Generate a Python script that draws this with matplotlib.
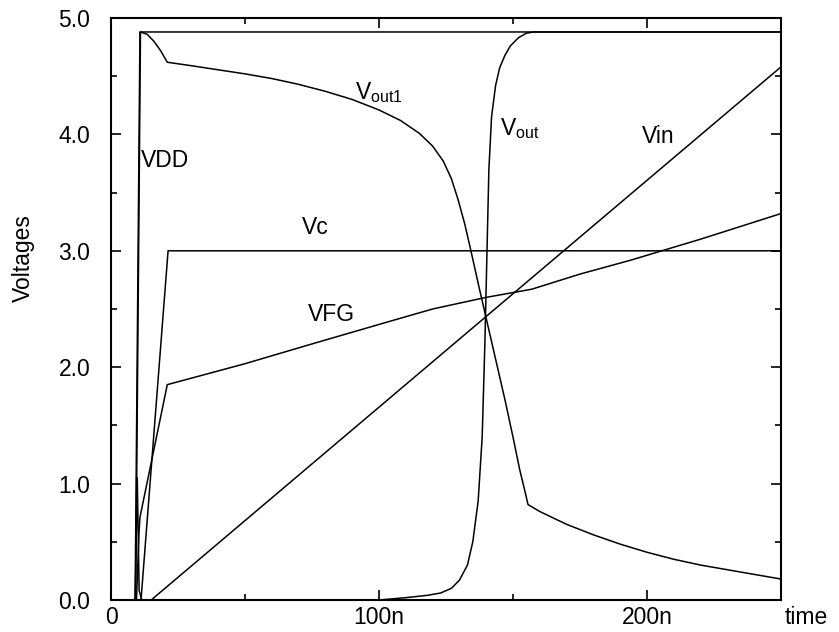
import matplotlib
matplotlib.use("Agg")
import matplotlib.pyplot as plt
from matplotlib.ticker import MultipleLocator, FuncFormatter

plt.rcParams['font.family'] = ['Liberation Sans', 'DejaVu Sans']
plt.rcParams['mathtext.fontset'] = 'custom'
plt.rcParams['mathtext.rm'] = 'Liberation Sans'
plt.rcParams['mathtext.it'] = 'Liberation Sans'

# transient waveforms, time in ns, voltages in V
vdd_t = [0, 9, 10.8, 250]
vdd_v = [0, 0, 4.88, 4.88]

vout1_t = [0, 9.2, 11, 13.5, 16, 18.5, 21, 30, 40, 50, 60, 70, 80, 90, 100, 108,
           115, 120, 124, 127, 129.5, 132, 134.3, 137.5, 141, 144, 147, 150, 152.5,
           154.5, 155.6, 160, 170, 180, 190, 200, 210, 220, 230, 240, 250]
vout1_v = [0, 0, 4.88, 4.86, 4.8, 4.72, 4.62, 4.59, 4.555, 4.52, 4.48, 4.43, 4.37,
           4.30, 4.21, 4.12, 4.01, 3.90, 3.77, 3.62, 3.44, 3.23, 3.0, 2.67, 2.32,
           2.02, 1.72, 1.4, 1.12, 0.93, 0.82, 0.76, 0.65, 0.56, 0.48, 0.41, 0.35,
           0.30, 0.26, 0.22, 0.18]

vout_t = [0, 9, 9.8, 10.5, 11.5, 100, 110, 118, 123, 127, 130, 133, 135, 137,
          138.5, 139.5, 140.3, 141, 142, 143.5, 145, 147, 149, 152, 155, 158, 250]
vout_v = [0, 0, 1.05, 0.08, 0, 0, 0.02, 0.04, 0.06, 0.1, 0.17, 0.3, 0.5, 0.85,
          1.4, 2.2, 3.0, 3.7, 4.15, 4.42, 4.57, 4.68, 4.76, 4.83, 4.87, 4.88, 4.88]

vc_t = [0, 11.2, 21.3, 250]
vc_v = [0, 0, 3.0, 3.0]

vfg_t = [0, 9.5, 10.5, 10.8, 21, 50, 75, 100.4, 120, 140, 157, 175, 194, 220, 250]
vfg_v = [0, 0, 0.6, 0.71, 1.85, 2.03, 2.2, 2.37, 2.5, 2.6, 2.67, 2.8, 2.92, 3.1, 3.32]

vin_t = [0, 15, 250]
vin_v = [0, 0, 4.58]

fig = plt.figure(figsize=(8.39, 6.32), dpi=100)
ax = fig.add_axes([111 / 839, 32 / 632, 670 / 839, 582 / 632])

for t, v in [(vdd_t, vdd_v), (vout1_t, vout1_v), (vout_t, vout_v),
             (vc_t, vc_v), (vfg_t, vfg_v), (vin_t, vin_v)]:
    ax.plot(t, v, color='black', lw=1.1)

ax.set_xlim(0, 250)
ax.set_ylim(0, 5)

fs = 16.5
ax.xaxis.set_major_locator(MultipleLocator(100))
ax.xaxis.set_minor_locator(MultipleLocator(50))
ax.yaxis.set_major_locator(MultipleLocator(1))
ax.yaxis.set_minor_locator(MultipleLocator(0.5))
ax.xaxis.set_major_formatter(FuncFormatter(lambda x, p: '0' if x == 0 else f'{int(x)}n'))
ax.yaxis.set_major_formatter(FuncFormatter(lambda y, p: f'{y:.1f}'))
ax.tick_params(which='both', direction='in', top=True, right=True, width=1.2, labelsize=fs)
ax.tick_params(which='major', length=7)
ax.tick_params(which='minor', length=4)
ax.tick_params(axis='y', pad=15)
ax.tick_params(axis='x', pad=4)
for s in ax.spines.values():
    s.set_linewidth(1.5)

ax.text(11.2, 3.78, 'VDD', fontsize=fs, va='center')
ax.text(91, 4.36, r'V$_{\mathrm{out1}}$', fontsize=fs, va='center')
ax.text(145, 4.05, r'V$_{\mathrm{out}}$', fontsize=fs, va='center')
ax.text(198, 3.98, 'Vin', fontsize=fs, va='center')
ax.text(71.3, 3.2, 'Vc', fontsize=fs, va='center')
ax.text(73.5, 2.45, 'VFG', fontsize=fs, va='center')

fig.text(785 / 839, 1 - 617 / 632, 'time', fontsize=fs, va='center', ha='left')
fig.text(23 / 839, 1 - 258 / 632, 'Voltages', fontsize=fs, va='center', ha='center',
         rotation=90)

fig.savefig('out.png', dpi=100)
